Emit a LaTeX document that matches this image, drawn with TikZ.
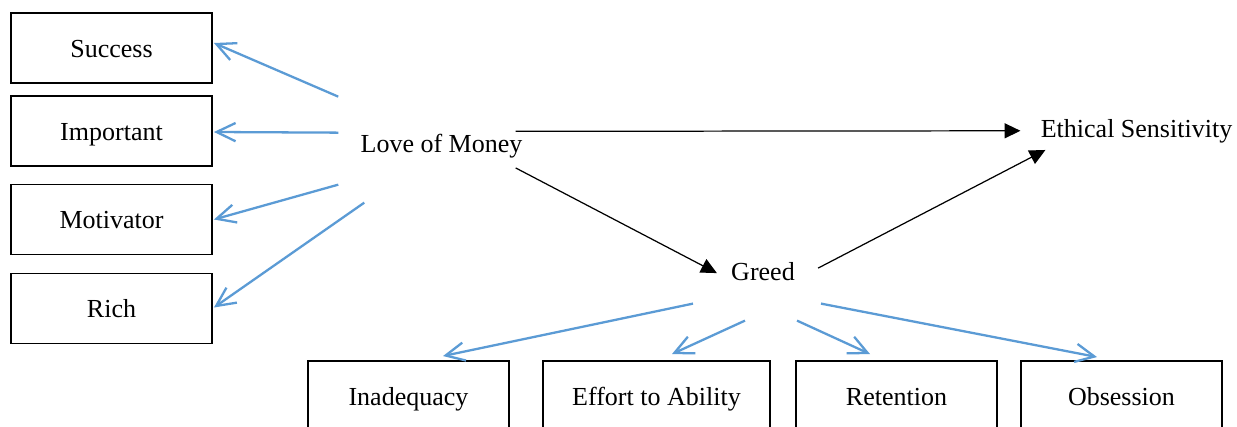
\documentclass[tikz,border=0pt]{standalone}
\usepackage{fontspec}
\setmainfont{Liberation Serif}
\usetikzlibrary{arrows.meta,calc}
\definecolor{lineblue}{RGB}{91,155,213}
\tikzset{
  box/.style={draw=black,line width=1.1pt,inner sep=0pt,minimum width=4.02cm,
    minimum height=1.4cm,text height=1.3em,text depth=0.22em},
  concept/.style={inner sep=0pt,anchor=base},
  bluearrow/.style={draw=lineblue,line width=1.3pt,
    -{Straight Barb[length=10.8pt,width=10.4pt,line width=1.3pt]}},
  blackarrow/.style={draw=black,line width=0.7pt,
    -{Triangle[length=9pt,width=8.5pt]}}
}
\begin{document}
\begin{tikzpicture}[x=0.02cm,y=-0.02cm,font=\fontsize{14.8}{17}\selectfont]
\clip (0,0) rectangle (1237,426);
\fill[white] (0,0) rectangle (1237,426);

% left boxes
\node[box] (S1) at (111.5,48) {Success};
\node[box] (S2) at (111.5,131) {Important};
\node[box] (S3) at (111.5,219.5) {Motivator};
\node[box] (S4) at (111.5,308.5) {Rich};

% bottom boxes
\node[box] (G1) at (408.5,396) {Inadequacy};
\node[box,minimum width=4.54cm] (G2) at (656.5,396) {Effort to Ability};
\node[box] (G3) at (896.5,396) {Retention};
\node[box] (G4) at (1121.5,396) {Obsession};

% main concepts
\node[concept] (L) at (441.5,152) {Love of Money};
\node[concept] (G) at (763,280) {Greed};
\node[concept] (E) at (1136.5,137) {Ethical Sensitivity};

% start points
\coordinate (L1) at ($(L.west)+(-22,-49)$);
\coordinate (L2) at ($(L.west)+(-22,-13)$);
\coordinate (L3) at ($(L.west)+(-22,39)$);
\coordinate (L4) at ($(L.west)+(4,57)$);
\coordinate (G1s) at ($(G.south)+(-70,23)$);
\coordinate (G2s) at ($(G.south)+(-18,40)$);
\coordinate (G3s) at ($(G.south)+(34,40)$);
\coordinate (G4s) at ($(G.south)+(58,23)$);

\draw[bluearrow] (L1) -- ($(S1.east)+(1,-5)$);
\draw[bluearrow] (L2) -- ($(S2.east)+(1,1)$);
\draw[bluearrow] (L3) -- ($(S3.east)+(1,0)$);
\draw[bluearrow] (L4) -- ($(S4.east)+(1,-1)$);

\draw[bluearrow] (G1s) -- ($(G1.north)+(34.5,-4)$);
\draw[bluearrow] (G2s) -- ($(G2.north)+(15.5,-6)$);
\draw[bluearrow] (G3s) -- ($(G3.north)+(-26.5,-6)$);
\draw[bluearrow] (G4s) -- ($(G4.north)+(-24.5,-3)$);

\draw[blackarrow] ($(L.north east)+(-7,-2)$) -- ($(E.west)+(-20,0)$);
\draw[blackarrow] ($(L.south east)+(-7,10)$) -- ($(G.west)+(-14,2)$);
\draw[blackarrow] ($(G.east)+(23,-3)$) -- ($(E.south west)+(5,7)$);

\end{tikzpicture}
\end{document}
